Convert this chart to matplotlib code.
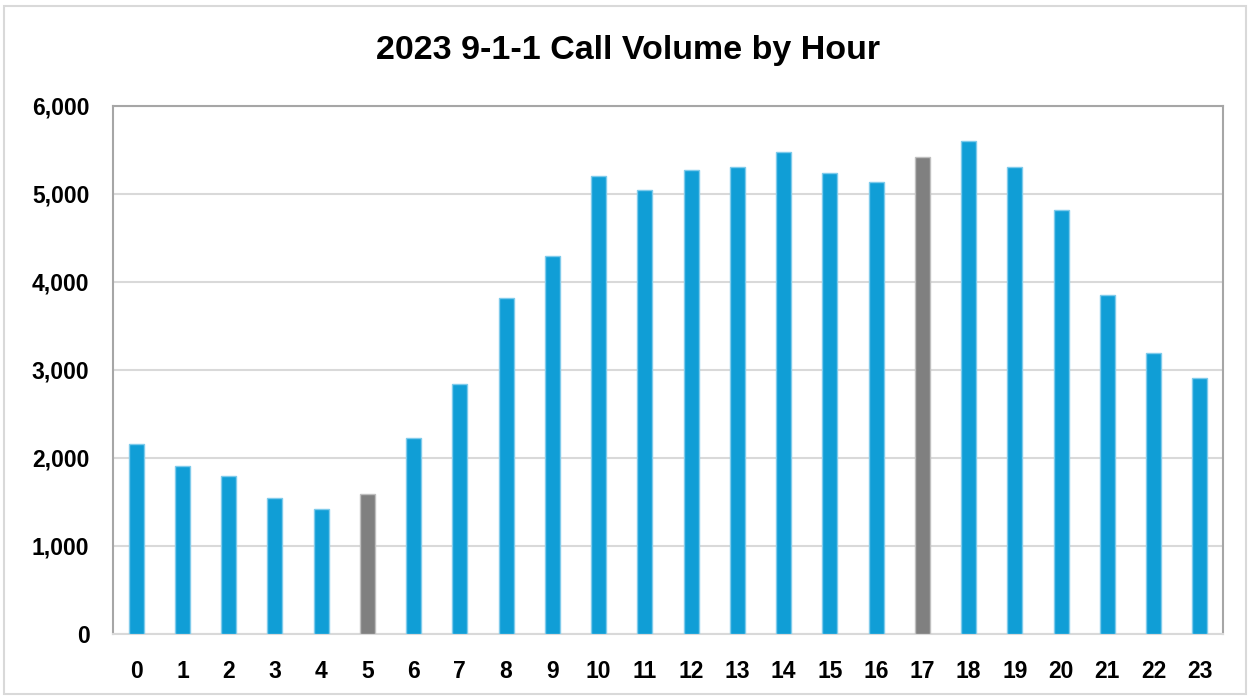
import matplotlib
matplotlib.use("Agg")
import matplotlib.pyplot as plt
from matplotlib.patches import Rectangle

hours = [str(h) for h in range(24)]
calls = [2151, 1901, 1788, 1545, 1416, 1583, 2226, 2836, 3813, 4293,
         5202, 5043, 5274, 5308, 5479, 5240, 5134, 5414, 5604, 5300,
         4820, 3847, 3188, 2907]
highlight = ["5", "17"]
title = "2023 9-1-1 Call Volume by Hour"
yticks = [0, 1000, 2000, 3000, 4000, 5000, 6000]

blue = "#109ED6"
blue_edge = "#7FCBEB"
gray = "#808080"
gray_edge = "#BFBFBF"

plt.rcParams['font.family'] = ['Liberation Sans', 'DejaVu Sans']

fig = plt.figure(figsize=(12.5, 6.96), dpi=100)
fig.patch.set_facecolor("white")
# chart area border
fig.add_artist(Rectangle((0.003, 0.003), 0.994, 0.988, transform=fig.transFigure,
                         fill=False, edgecolor="#D9D9D9", linewidth=1.5))

ax = fig.add_axes([0.0904, 0.0895, 0.8880, 0.7586])
x = list(range(len(hours)))
colors = [gray if h in highlight else blue for h in hours]
edges = [gray_edge if h in highlight else blue_edge for h in hours]
ax.bar(x, calls, width=0.32, color=colors, edgecolor=edges, linewidth=1.0, zorder=3)

ax.set_xlim(-0.5, len(hours) - 0.5)
ax.set_ylim(0, 6000)
ax.set_yticks(yticks)
ax.set_yticklabels([f"{v:,}" for v in yticks])
ax.set_xticks(x)
ax.set_xticklabels(hours)
ax.grid(axis="y", color="#D9D9D9", linewidth=1.5, zorder=0)
ax.tick_params(axis="both", length=0, labelsize=16.5)
ax.tick_params(axis="x", pad=19)
ax.tick_params(axis="y", pad=17)
for lab in ax.get_xticklabels() + ax.get_yticklabels():
    lab.set_fontweight("bold")
    lab.set_color("black")

for side in ["left", "top", "right"]:
    ax.spines[side].set_color("#A6A6A6")
    ax.spines[side].set_linewidth(1.5)
ax.spines["bottom"].set_color("#D9D9D9")
ax.spines["bottom"].set_linewidth(1.5)

fig.text(0.5025, 0.927, title, ha="center", va="center", fontsize=24.5, fontweight="bold", color="black")

fig.savefig("out.png", dpi=100, facecolor="white")
